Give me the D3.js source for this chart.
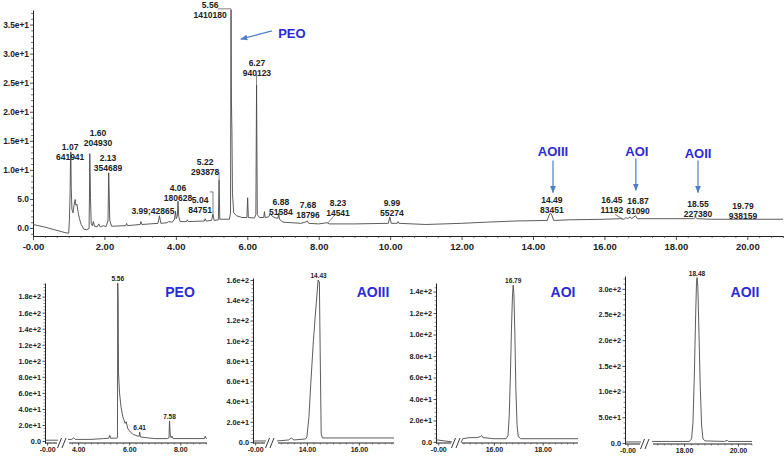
<!DOCTYPE html>
<html><head><meta charset="utf-8">
<script src="https://cdn.jsdelivr.net/npm/d3@7"></script>
<style>
body{margin:0;background:#fff;}
svg{display:block;font-family:"Liberation Sans",Arial,sans-serif;}
</style></head><body>
<svg id="c" width="784" height="457"></svg>
<script>
// ---------------- DATA ----------------
// main total chromatogram: [retention time (min), intensity]
const mainTrace = [
 [0.00,0.6],[0.3,0.2],[0.6,-0.3],[0.9,-0.8],[1.00,-0.9],[1.02,1.5],[1.04,6.5],[1.05,12.0],[1.06,13.1],[1.07,7.0],[1.09,3.2],
 [1.12,2.6],[1.15,4.0],[1.18,4.9],[1.20,3.9],[1.23,4.1],[1.26,2.8],[1.30,1.6],[1.35,0.6],[1.42,-0.2],[1.5,-0.3],
 [1.57,-0.1],[1.58,5.0],[1.59,12.8],[1.61,5.2],[1.63,0.8],[1.66,0.4],[1.69,1.1],[1.72,0.3],[1.80,0.2],[1.84,0.7],[1.88,0.2],
 [1.98,0.4],[2.04,0.2],[2.10,1.2],[2.12,9.5],[2.15,1.3],[2.2,0.3],[2.6,0.4],[2.62,0.8],[2.65,0.4],[3.0,0.6],[3.02,1.1],
 [3.05,0.6],[3.5,0.8],[3.54,2.1],[3.58,0.8],[3.75,0.9],[3.8,1.1],[3.9,1.0],[3.96,1.5],[3.99,2.9],[4.01,1.6],[4.04,2.0],
 [4.06,4.6],[4.08,2.0],[4.12,1.1],[4.3,1.1],[4.32,1.4],[4.35,1.1],[4.8,1.2],[4.82,1.6],[4.85,1.2],[5.0,1.3],[5.04,2.4],
 [5.07,1.3],[5.19,1.4],[5.21,8.3],[5.23,1.5],[5.5,1.5],[5.53,2.6],[5.545,37.5],[5.555,22.0],[5.57,16.8],[5.585,6.0],
 [5.62,2.6],[5.7,2.1],[5.85,1.8],[5.99,1.8],[6.01,5.2],[6.03,1.8],[6.2,1.7],[6.24,2.3],[6.26,24.6],[6.28,2.3],[6.34,1.8],
 [6.46,1.8],[6.48,2.8],[6.5,1.8],[6.6,1.9],[6.64,2.5],[6.7,2.0],[6.8,1.7],[6.86,1.7],[6.88,2.6],[6.9,1.5],[7.0,1.0],
 [7.5,0.8],[7.62,1.0],[7.68,1.2],[7.72,0.8],[8.0,0.7],[8.23,0.9],[8.3,0.7],[9.0,0.7],[9.95,0.8],[9.99,1.9],[10.03,0.8],
 [10.2,0.8],[10.22,1.1],[10.25,0.8],[11.0,0.6],[12.0,0.8],[12.7,1.0],[13.5,1.2],[14.4,1.3],[14.45,2.2],[14.49,2.6],
 [14.53,2.2],[14.58,1.3],[15.0,1.4],[16.0,1.5],[16.45,1.6],[16.55,1.5],[16.6,1.8],[16.65,1.6],[16.72,1.9],[16.76,1.6],
 [16.87,2.1],[16.92,1.6],[17.0,1.6],[18.5,1.6],[18.55,1.8],[18.6,1.6],[19.0,1.5],[19.8,1.5],[21.0,1.5]
];
const mainXTicks = [0,2,4,6,8,10,12,14,16,18,20];
const mainXTickLabels = ["-0.00","2.00","4.00","6.00","8.00","10.00","12.00","14.00","16.00","18.00","20.00"];
const mainYTicks = [0,5,10,15,20,25,30,35];
const mainYTickLabels = ["0.0","5.0","1.0e+1","1.5e+1","2.0e+1","2.5e+1","3.0e+1","3.5e+1"];
const mainPeakRT   = ["1.07","1.60","2.13","3.99;42865","4.06","5.04","5.22","5.56","6.27","6.88","7.68","8.23","9.99","14.49","16.45","16.87","18.55","19.79"];
const mainPeakArea = ["641941","204930","354689","","180628","84751","293878","1410180","940123","51584","18796","14541","55274","83451","11192","61090","227380","938159"];
const compoundNames = ["PEO","AOIII","AOI","AOII"];

// extracted-ion panels
const p1Left  = [[-0.1,1],[0.5,1]];
const p1Right = [[3.6,2],[3.75,2],[3.82,4],[3.88,2],[4.5,2],[5.0,3],[5.2,3.5],[5.24,7],[5.27,3.5],[5.5,3.5],[5.54,4],
 [5.55,197],[5.565,180],[5.58,85],[5.62,60],[5.68,42],[5.75,30],[5.84,22],[5.88,24],[5.95,15],[6.05,11],[6.17,8],
 [6.35,6],[6.39,6],[6.41,11],[6.44,5],[6.7,4],[7.0,3],[7.5,3],[7.56,4],[7.58,25],[7.61,8],[7.64,4],[7.68,6],[7.72,3],
 [8.5,3],[8.95,3],[8.98,6],[9.02,3],[9.05,3]];
const p2Left  = [[-0.1,1],[0.5,1]];
const p2Right = [[12.85,1],[13.3,2],[13.4,4],[13.5,2],[13.95,3],[14.0,5],[14.08,25],[14.15,58],[14.25,100],[14.35,134],
 [14.4,150],[14.43,160],[14.48,158],[14.51,90],[14.55,8],[14.6,4],[15.0,4],[16.0,4],[17.35,4]];
const p3Left  = [[-0.1,2],[0.6,0]];
const p3Right = [[14.65,-1],[14.72,3],[15.0,4],[15.3,4],[15.45,5],[15.5,6],[15.55,4],[16.0,3],[16.5,3],[16.58,6],
 [16.63,25],[16.68,65],[16.72,105],[16.76,135],[16.79,146],[16.82,138],[16.86,100],[16.9,50],[16.95,15],[17.0,5],
 [17.1,3],[19.45,3]];
const p4Left  = [[-0.1,2],[0.55,2]];
const p4Right = [[16.81,3],[17.5,3],[18.2,3],[18.28,8],[18.33,40],[18.38,130],[18.43,250],[18.46,310],[18.48,322],
 [18.51,305],[18.55,220],[18.6,110],[18.65,35],[18.7,8],[18.78,4],[19.5,3],[19.6,5],[19.65,3],[20.52,3]];

const p1YTicks = [0,20,40,60,80,100,120,140,160,180];
const p1YLabels = ["0.0","2.0e+1","4.0e+1","6.0e+1","8.0e+1","1.0e+2","1.2e+2","1.4e+2","1.6e+2","1.8e+2"];
const p2YTicks = [0,20,40,60,80,100,120,140,160];
const p2YLabels = ["0.0","2.0e+1","4.0e+1","6.0e+1","8.0e+1","1.0e+2","1.2e+2","1.4e+2","1.6e+2"];
const p3YTicks = [0,20,40,60,80,100,120,140];
const p3YLabels = ["0.0","2.0e+1","4.0e+1","6.0e+1","8.0e+1","1.0e+2","1.2e+2","1.4e+2"];
const p4YTicks = [0,50,100,150,200,250,300];
const p4YLabels = ["0.0","5.0e+1","1.0e+2","1.5e+2","2.0e+2","2.5e+2","3.0e+2"];
const p1XTicks = [0,4,6,8];   const p1XLabels = ["-0.00","4.00","6.00","8.00"];
const p2XTicks = [0,14,16];   const p2XLabels = ["-0.00","14.00","16.00"];
const p3XTicks = [0,16,18];   const p3XLabels = ["-0.00","16.00","18.00"];
const p4XTicks = [0,18,20];   const p4XLabels = ["-0.00","18.00","20.00"];
const p1PeakLabels = [["5.56",5.55,197],["6.41",6.41,11],["7.58",7.58,25]];
const p2PeakLabels = [["14.43",14.45,160]];
const p3PeakLabels = [["16.79",16.79,146]];
const p4PeakLabels = [["18.48",18.48,322]];

// ---------------- LAYOUT ----------------
const svg = d3.select("#c");
const INK = "#222", TRACE = "#4a4a4a", BLUE_T = "#2b2bd6", BLUE_A = "#4f7fc2";

svg.append("defs").append("marker").attr("id","ah").attr("viewBox","0 0 10 10")
  .attr("refX",9).attr("refY",5).attr("markerWidth",6).attr("markerHeight",6).attr("orient","auto")
  .append("path").attr("d","M0,1 L10,5 L0,9 Z").attr("fill",BLUE_A);

// ---- main chart ----
const x = d3.scaleLinear().domain([0,21]).range([33,783]);
const y = d3.scaleLinear().domain([-1.38,37.5]).range([236,10]);
const main = svg.append("g");

function styleAxis(g, fs){
  g.selectAll("path.domain").attr("stroke",INK).attr("stroke-width",1);
  g.selectAll(".tick line").attr("stroke",INK).attr("stroke-width",0.8);
  g.selectAll("text").attr("fill",INK).attr("font-size",fs).attr("font-weight","bold")
    .attr("font-family","'Liberation Sans',Arial,sans-serif");
}
// minor ticks
const xMinor = d3.range(0, 21.01, 1/3).filter(v=>Math.abs(v/2-Math.round(v/2))>0.01);
main.append("g").attr("transform","translate(0,236)")
  .call(d3.axisBottom(x).tickValues(xMinor).tickSize(2).tickFormat(""))
  .call(g=>{g.select(".domain").remove(); g.selectAll("line").attr("stroke",INK).attr("stroke-width",0.6);});
const yMinor = d3.range(-1,37.1,1).filter(v=>v%5!==0);
main.append("g").attr("transform","translate(33,0)")
  .call(d3.axisLeft(y).tickValues(yMinor).tickSize(2).tickFormat(""))
  .call(g=>{g.select(".domain").remove(); g.selectAll("line").attr("stroke",INK).attr("stroke-width",0.6);});

main.append("g").attr("transform","translate(0,236)")
  .call(d3.axisBottom(x).tickValues(mainXTicks).tickSize(4).tickSizeOuter(0).tickPadding(3)
        .tickFormat((d,i)=>mainXTickLabels[i]))
  .call(g=>styleAxis(g,9.5));
main.append("g").attr("transform","translate(33,0)")
  .call(d3.axisLeft(y).tickValues(mainYTicks).tickSize(3).tickSizeOuter(0).tickPadding(1)
        .tickFormat((d,i)=>mainYTickLabels[i]))
  .call(g=>styleAxis(g,8.4));

const line = d3.line().x(d=>x(d[0])).y(d=>y(d[1]));
main.append("path").datum(mainTrace).attr("d",line).attr("fill","none")
  .attr("stroke",TRACE).attr("stroke-width",0.9).attr("stroke-linejoin","round");

// peak labels (anchor positions in data units)
const mainLabelAnchor = [[1.04,13.9],[1.82,16.3],[2.10,12.0],[3.36,2.9],[4.06,6.9],[4.68,4.8],[4.82,11.4],[4.96,38.3],
 [6.27,28.4],[6.94,4.5],[7.70,4.0],[8.54,4.3],[10.05,4.3],[14.53,4.8],[16.21,4.8],[16.94,4.6],[18.62,4.1],[19.88,3.8]];
mainPeakRT.forEach((rt,i)=>{
  const [t,v] = mainLabelAnchor[i];
  const g = main.append("g").attr("font-size",8.5).attr("font-weight","bold").attr("fill",INK).attr("text-anchor","middle");
  g.append("text").attr("x",x(t)).attr("y",y(v)+3).text(rt);
  if (mainPeakArea[i]) g.append("text").attr("x",x(t)).attr("y",y(v)+13).text(mainPeakArea[i]);
});
// leader lines
const leaders = [
  [[5.17,37.7],[5.545,37.7],[5.545,37.5]],
  [[4.95,6.2],[5.04,6.2],[5.04,2.4]],
  [[5.12,9.6],[5.21,9.6],[5.21,8.3]],
  [[6.26,26.6],[6.26,24.6]],
  [[16.30,2.3],[16.50,1.6]],
  [[8.42,2.0],[8.26,0.9]]
];
leaders.forEach(l=>main.append("path").datum(l).attr("d",line).attr("fill","none")
  .attr("stroke",TRACE).attr("stroke-width",0.7));

// compound labels + arrows
const mainNamePos = [[7.25,33.6],[14.56,13.2],[16.91,13.2],[18.62,12.9]];
const mainArrows = [[[6.69,33.9],[5.82,32.5]],[[14.56,11.6],[14.56,6.1]],[[16.88,12.0],[16.88,6.5]],[[18.62,11.6],[18.62,6.1]]];
compoundNames.forEach((n,i)=>{
  main.append("text").attr("x",x(mainNamePos[i][0])).attr("y",y(mainNamePos[i][1])+5)
    .attr("text-anchor","middle").attr("font-size",13).attr("font-weight","bold").attr("fill",BLUE_T).text(n);
  const a = mainArrows[i];
  main.append("line").attr("x1",x(a[0][0])).attr("y1",y(a[0][1])).attr("x2",x(a[1][0])).attr("y2",y(a[1][1]))
    .attr("stroke",BLUE_A).attr("stroke-width",1.2).attr("marker-end","url(#ah)");
});

// ---- panels ----
const panels = [
  {left:p1Left,right:p1Right,yT:p1YTicks,yL:p1YLabels,xT:p1XTicks,xL:p1XLabels,pk:p1PeakLabels,name:"PEO",
   ax:45,yd:[-2.5,197],yr:[443,283],xd:[-0.1,0.5,3.6,9.05],xr:[45,58,68,207],brk:[58,68],namePos:[180,297],minorY:4,minorX:0.25},
  {left:p2Left,right:p2Right,yT:p2YTicks,yL:p2YLabels,xT:p2XTicks,xL:p2XLabels,pk:p2PeakLabels,name:"AOIII",
   ax:253,yd:[-1,162],yr:[443,278],xd:[-0.1,0.5,12.85,17.35],xr:[253,266,277,394],brk:[266,277],namePos:[373,297],minorY:4,minorX:0.25},
  {left:p3Left,right:p3Right,yT:p3YTicks,yL:p3YLabels,xT:p3XTicks,xL:p3XLabels,pk:p3PeakLabels,name:"AOI",
   ax:436,yd:[-1,148],yr:[443,283],xd:[-0.1,0.6,14.65,19.45],xr:[436,452,461,578],brk:[452,461],namePos:[563,297],minorY:4,minorX:0.25},
  {left:p4Left,right:p4Right,yT:p4YTicks,yL:p4YLabels,xT:p4XTicks,xL:p4XLabels,pk:p4PeakLabels,name:"AOII",
   ax:625,yd:[-2,325],yr:[444,276],xd:[-0.1,0.55,16.81,20.52],xr:[625,641,652,752],brk:[641,652],namePos:[745,297],minorY:10,minorX:0.25}
];
panels.forEach(p=>{
  const g = svg.append("g");
  const px = d3.scaleLinear().domain(p.xd).range(p.xr);
  const py = d3.scaleLinear().domain(p.yd).range(p.yr);
  const yb = p.yr[0];
  // minor ticks
  const ym = d3.range(0, p.yd[1], p.minorY).filter(v=>!p.yT.includes(v));
  g.append("g").attr("transform",`translate(${p.ax},0)`)
    .call(d3.axisLeft(py).tickValues(ym).tickSize(1.5).tickFormat(""))
    .call(a=>{a.select(".domain").remove(); a.selectAll("line").attr("stroke",INK).attr("stroke-width",0.5);});
  const xm = d3.range(Math.ceil(p.xd[2]*4)/4, p.xd[3], p.minorX).filter(v=>!p.xT.includes(v));
  g.append("g").attr("transform",`translate(0,${yb})`)
    .call(d3.axisBottom(px).tickValues(xm).tickSize(1.5).tickFormat(""))
    .call(a=>{a.select(".domain").remove(); a.selectAll("line").attr("stroke",INK).attr("stroke-width",0.5);});
  // major
  g.append("g").attr("transform",`translate(${p.ax},0)`)
    .call(d3.axisLeft(py).tickValues(p.yT).tickSize(2.5).tickSizeOuter(0).tickPadding(1.5).tickFormat((d,i)=>p.yL[i]))
    .call(a=>styleAxis(a,7.3));
  const xa = g.append("g").attr("transform",`translate(0,${yb})`)
    .call(d3.axisBottom(px).tickValues(p.xT).tickSize(2.5).tickPadding(2).tickFormat((d,i)=>p.xL[i]))
    .call(a=>styleAxis(a,7));
  xa.select(".domain").remove();
  g.append("line").attr("x1",p.xr[0]).attr("x2",p.brk[0]-1).attr("y1",yb).attr("y2",yb).attr("stroke",INK);
  g.append("line").attr("x1",p.brk[1]+1).attr("x2",p.xr[3]).attr("y1",yb).attr("y2",yb).attr("stroke",INK);
  [p.brk[0]+1, p.brk[0]+5.5].forEach(bx=>
    g.append("line").attr("x1",bx-1.5).attr("y1",yb+5).attr("x2",bx+2.5).attr("y2",yb-5).attr("stroke",INK).attr("stroke-width",0.9));
  const ln = d3.line().x(d=>px(d[0])).y(d=>py(d[1]));
  [p.left,p.right].forEach(seg=>g.append("path").datum(seg).attr("d",ln).attr("fill","none")
     .attr("stroke",TRACE).attr("stroke-width",0.9).attr("stroke-linejoin","round"));
  p.pk.forEach(k=>g.append("text").attr("x",px(k[1])).attr("y",py(k[2])-2).attr("text-anchor","middle")
     .attr("font-size",6.5).attr("font-weight","bold").attr("fill",INK).text(k[0]));
  g.append("text").attr("x",p.namePos[0]).attr("y",p.namePos[1]).attr("text-anchor","middle")
     .attr("font-size",14).attr("font-weight","bold").attr("fill",BLUE_T).text(p.name);
});
</script>
</body></html>
